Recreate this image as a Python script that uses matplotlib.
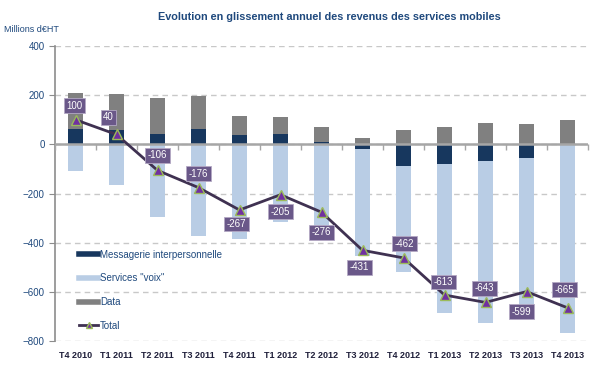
import matplotlib
matplotlib.use("Agg")
import matplotlib.pyplot as plt
from matplotlib.lines import Line2D
import numpy as np

plt.rcParams['font.family'] = ['Liberation Sans', 'DejaVu Sans']

categories = ['T4 2010', 'T1 2011', 'T2 2011', 'T3 2011', 'T4 2011', 'T1 2012',
              'T2 2012', 'T3 2012', 'T4 2012', 'T1 2013', 'T2 2013', 'T3 2013', 'T4 2013']
messagerie = [61, 57, 41, 61, 37, 41, 8, -20, -90, -80, -69, -57, -2]
voix = [-110, -164, -296, -374, -384, -316, -345, -435, -429, -605, -659, -626, -764]
data = [149, 147, 149, 137, 80, 70, 61, 24, 57, 72, 85, 84, 101]
total = [100, 40, -106, -176, -267, -205, -276, -431, -462, -613, -643, -599, -665]

# label offsets in pixels (dx, dy) from each point
label_offsets = [(-1, 14), (-8, 17), (0, 15), (0, 14), (-3, -14), (0, -17), (0, -20),
                 (-3, -17), (1, 14), (-1, 13), (-1, 14), (-5, -20), (-3, 18)]

C_MSG = '#17375E'
C_VOIX = '#B9CDE5'
C_DATA = '#808080'
C_LINE = '#3F3151'
C_TEXT = '#1F497D'
C_AXIS = '#A6A6A6'

fig = plt.figure(figsize=(6.05, 3.76), dpi=100)
ax = fig.add_axes([55 / 605, 1 - 341 / 376, 533 / 605, 295 / 376])

x = np.arange(len(categories))
msg = np.array(messagerie)
vx = np.array(voix)
dt = np.array(data)
w = 0.39

# negative parts stack downward from messagerie when it is negative
voix_bottom = np.where(msg < 0, msg, 0)
data_bottom = np.where(msg > 0, msg, 0)

ax.bar(x, msg, w, color=C_MSG, zorder=2)
ax.bar(x, vx, w, bottom=voix_bottom, color=C_VOIX, zorder=2)
ax.bar(x, dt, w, bottom=data_bottom, color=C_DATA, zorder=2)

# zero line with category separator ticks
ax.axhline(0, color=C_AXIS, lw=1.8, zorder=3)
bounds = np.arange(-0.5, len(categories), 1)
ax.plot(bounds, np.zeros_like(bounds), ls='none', marker=3, ms=4, mew=1,
        color=C_AXIS, zorder=3, clip_on=False)

ax.plot(x, total, color=C_LINE, lw=2, zorder=4)
ax.plot(x, total, ls='none', marker='^', ms=6.5, mfc='#7030A0', mec='#9BBB59',
        mew=1, zorder=5)

for xi, val, (dx, dy) in zip(x, total, label_offsets):
    ax.annotate(f'{val}', (xi, val), xytext=(dx, dy), textcoords='offset pixels',
                ha='center', va='center', color='white', fontsize=7, zorder=6,
                bbox=dict(boxstyle='square,pad=0.25', fc='#6A5889', ec='#B3A8C4', lw=0.6))

ax.set_xlim(-0.5, len(categories) - 0.5)
ax.set_ylim(-800, 400)
ax.set_yticks(np.arange(-800, 401, 200))
ax.yaxis.grid(True, color='#C8C8C8', ls=(0, (4, 3)), lw=1)
ax.set_axisbelow(True)

for s in ['top', 'right', 'bottom']:
    ax.spines[s].set_visible(False)
ax.spines['left'].set_color('#8C8C8C')
ax.spines['left'].set_linewidth(1.2)
ax.tick_params(axis='y', colors='#8C8C8C', labelcolor=C_TEXT, labelsize=7, length=4)

ax.set_xticks(x)
ax.set_xticklabels(categories, fontsize=6.5, fontweight='bold', color='#1F1F3A')
ax.tick_params(axis='x', length=0, pad=7)

fig.text(0.545, 0.955, 'Evolution en glissement annuel des revenus des services mobiles',
         ha='center', va='center', fontsize=7.8, fontweight='bold', color=C_TEXT)
fig.text(0.007, 1 - 29 / 376, 'Millions d€HT', ha='left', va='center',
         fontsize=6.5, color=C_TEXT)

handles = [
    Line2D([], [], color=C_MSG, lw=4),
    Line2D([], [], color=C_VOIX, lw=4),
    Line2D([], [], color=C_DATA, lw=4),
    Line2D([], [], color=C_LINE, lw=2, marker='^', ms=5, mfc='#7030A0', mec='#9BBB59'),
]
labels = ['Messagerie interpersonnelle', 'Services "voix"', 'Data', 'Total']
leg = ax.legend(handles, labels, loc='upper left', bbox_to_anchor=(74 / 605, 1 - 245 / 376),
                bbox_transform=fig.transFigure, frameon=False, fontsize=7,
                labelspacing=1.4, handlelength=2.0, handletextpad=0.2, borderpad=0)
for t in leg.get_texts():
    t.set_color(C_TEXT)

fig.savefig('out.png', dpi=100)
